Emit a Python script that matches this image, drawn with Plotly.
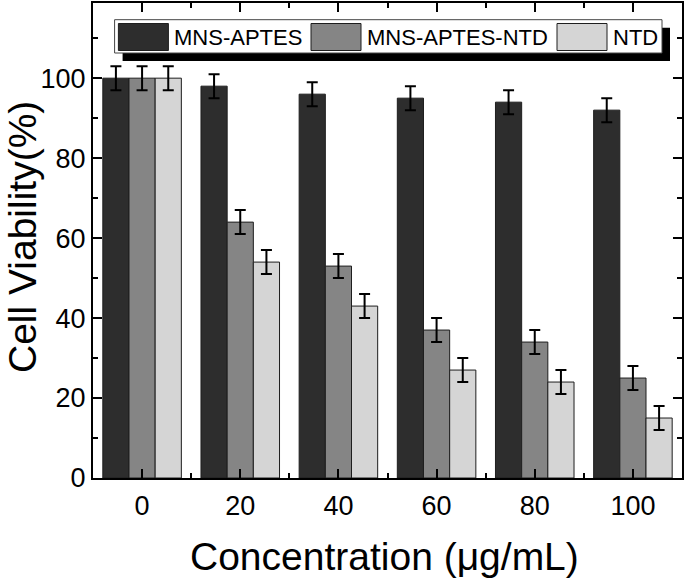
import plotly.graph_objects as go

# ---- data ----
concentrations = [0, 20, 40, 60, 80, 100]
tick_labels = ["0", "20", "40", "60", "80", "100"]
series_names = ["MNS-APTES", "MNS-APTES-NTD", "NTD"]
mns_aptes = [100, 98, 96, 95, 94, 92]
mns_aptes_ntd = [100, 64, 53, 37, 34, 25]
ntd = [100, 54, 43, 27, 24, 15]
err_mns_aptes = [3, 3, 3, 3, 3, 3]
err_mns_aptes_ntd = [3, 3, 3, 3, 3, 3]
err_ntd = [3, 3, 3, 3, 3, 3]

colors = ["#2d2d2d", "#858585", "#d5d5d5"]
values = [mns_aptes, mns_aptes_ntd, ntd]
errors = [err_mns_aptes, err_mns_aptes_ntd, err_ntd]

W, H = 685, 581
L, R, T, B = 93, 3, 3, 103
PW, PH = W - L - R, H - T - B

fig = go.Figure()
for name, col, v, e in zip(series_names, colors, values, errors):
    fig.add_trace(go.Bar(
        x=concentrations, y=v, name=name,
        marker=dict(color=col, line=dict(color="#1e1e1e", width=1)),
        error_y=dict(type="data", array=e, visible=True, color="black",
                     thickness=2, width=5.5),
        showlegend=False,
    ))

font_family = "Liberation Sans, Arial, sans-serif"
axis_common = dict(
    showline=True, linecolor="black", linewidth=2, mirror="ticks",
    ticks="inside", ticklen=9, tickwidth=2, tickcolor="black",
    showgrid=False, zeroline=False, automargin=False,
    tickfont=dict(family=font_family, size=27, color="black"),
)

fig.update_layout(
    width=W, height=H,
    margin=dict(l=L, r=R, t=T, b=B, autoexpand=False),
    paper_bgcolor="white", plot_bgcolor="white",
    barmode="group", bargap=0.2, bargroupgap=0,
    font=dict(family=font_family, color="black"),
    xaxis=dict(
        range=[-10, 110], tickmode="array", tickvals=concentrations,
        ticktext=tick_labels, ticklabelstandoff=3,
        minor=dict(ticks="inside", ticklen=5, tickwidth=2, tickcolor="black", dtick=20, tick0=10),
        **axis_common,
    ),
    yaxis=dict(
        range=[0, 118.8], dtick=20, tick0=0, ticklabelstandoff=0,
        minor=dict(ticks="inside", ticklen=5, tickwidth=2, tickcolor="black", dtick=10, tick0=10),
        **axis_common,
    ),
)

def px(xp):
    return (xp - L) / PW

def py(yp):
    return (H - B - yp) / PH

# ---- axis titles ----
fig.add_annotation(xref="paper", yref="paper", x=px(384), y=py(556),
                   text="Concentration (\u03bcg/mL)", showarrow=False,
                   xanchor="center", yanchor="middle",
                   font=dict(size=39, family=font_family, color="black"))
fig.add_annotation(xref="paper", yref="paper", x=px(22), y=py(237),
                   text="Cell Viability(%)", showarrow=False, textangle=-90,
                   xanchor="center", yanchor="middle",
                   font=dict(size=39, family=font_family, color="black"))

# ---- legend drawn as box with drop shadow ----
box = (114.6, 19.7, 662, 53)
shadow_off = 8
fig.add_shape(type="rect", xref="paper", yref="paper",
              x0=px(box[0] + shadow_off), x1=px(box[2] + shadow_off),
              y0=py(box[1] + shadow_off), y1=py(box[3] + shadow_off),
              fillcolor="black", line=dict(width=0), layer="above")
fig.add_shape(type="rect", xref="paper", yref="paper",
              x0=px(box[0]), x1=px(box[2]), y0=py(box[1]), y1=py(box[3]),
              fillcolor="white", line=dict(color="#444", width=1), layer="above")
swatch_x = [118.4, 311, 557]
swatch_w = 50
for sx, col, name in zip(swatch_x, colors, series_names):
    fig.add_shape(type="rect", xref="paper", yref="paper",
                  x0=px(sx), x1=px(sx + swatch_w), y0=py(23.5), y1=py(50.5),
                  fillcolor=col, line=dict(color="#1e1e1e", width=1), layer="above")
    fig.add_annotation(xref="paper", yref="paper", x=px(sx + swatch_w + 4), y=py(37.5),
                       text=name, showarrow=False, xanchor="left", yanchor="middle",
                       font=dict(size=22, family=font_family, color="black"))

fig.write_html("out.html", config={"displayModeBar": False},
               post_script="document.body.style.margin='0';document.body.style.overflow='hidden';")
